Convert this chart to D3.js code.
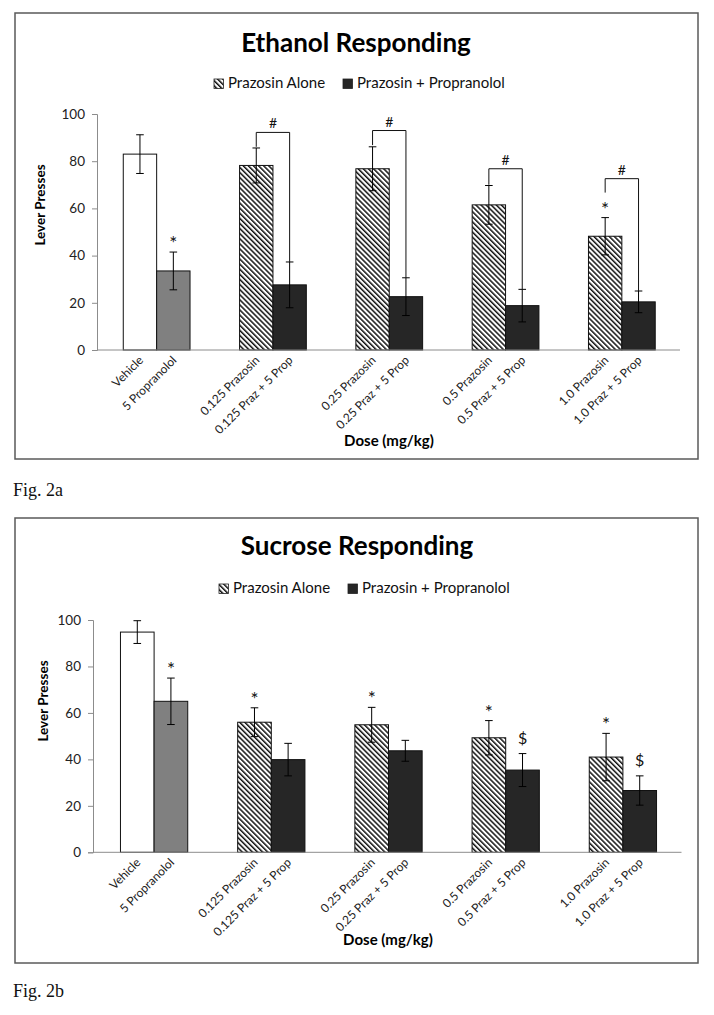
<!DOCTYPE html>
<html>
<head>
<meta charset="utf-8">
<script src="https://cdn.jsdelivr.net/npm/d3@7"></script>
<style>
  html, body { margin: 0; padding: 0; background: #fff; }
  svg { display: block; }
</style>
</head>
<body>
<svg id="chart" width="714" height="1015"></svg>
<script>
// ---------------- DATA ----------------
const categories = [
  "Vehicle", "5 Propranolol",
  "0.125 Prazosin", "0.125 Praz + 5 Prop",
  "0.25 Prazosin", "0.25 Praz + 5 Prop",
  "0.5 Prazosin", "0.5 Praz + 5 Prop",
  "1.0 Prazosin", "1.0 Praz + 5 Prop"
];
const groups = ["Control", "0.125", "0.25", "0.5", "1.0"];
const barKinds = ["vehicle", "propranolol", "alone", "combo", "alone", "combo", "alone", "combo", "alone", "combo"];

const ethanolMeans  = [83.0, 33.5, 78.2, 27.6, 76.8, 22.6, 61.5, 18.8, 48.2, 20.4];
const ethanolErrors = [8.2, 8.0, 7.4, 9.7, 9.3, 8.0, 8.2, 6.9, 7.9, 4.6];
const ethanolMarks  = ["", "*", "", "", "", "", "", "", "*", ""];
const ethanolBracketGroups   = [1, 2, 3, 4];
const ethanolBracketLevels   = [92.2, 93.0, 76.8, 72.6];
const ethanolBracketLeftEnds = [86.1, 86.8, 70.0, 66.7];

const sucroseMeans  = [94.8, 65.0, 56.0, 39.9, 54.9, 43.7, 49.3, 35.4, 41.0, 26.6];
const sucroseErrors = [4.9, 10.0, 6.2, 7.0, 7.5, 4.5, 7.4, 7.1, 10.2, 6.3];
const sucroseMarks  = ["", "*", "*", "", "*", "", "*", "$", "*", "$"];

const yTicks = [0, 20, 40, 60, 80, 100];
const legendLabels = ["Prazosin Alone", "Prazosin + Propranolol"];
const titles = ["Ethanol Responding", "Sucrose Responding"];
const figLabels = ["Fig. 2a", "Fig. 2b"];
const xAxisTitle = "Dose (mg/kg)";
const yAxisTitle = "Lever Presses";

// ---------------- STYLE / LAYOUT ----------------
const FONT = "Lato, 'Open Sans', sans-serif";
const fills = { vehicle: "#ffffff", propranolol: "#808080", alone: "url(#hatch)", combo: "#262626" };
const axisColor = "#8c8c8c";

const svg = d3.select("#chart");
const defs = svg.append("defs");
const pat = defs.append("pattern")
  .attr("id", "hatch")
  .attr("patternUnits", "userSpaceOnUse")
  .attr("width", 3.6).attr("height", 3.6)
  .attr("patternTransform", "rotate(-45)");
pat.append("rect").attr("width", 3.6).attr("height", 3.6).attr("fill", "#fff");
pat.append("rect").attr("x", 0).attr("y", 0).attr("width", 1.5).attr("height", 3.6).attr("fill", "#111");

function drawChart(cfg) {
  const g = svg.append("g");

  // frame
  g.append("rect")
    .attr("x", cfg.frame[0]).attr("y", cfg.frame[1])
    .attr("width", cfg.frame[2] - cfg.frame[0]).attr("height", cfg.frame[3] - cfg.frame[1])
    .attr("fill", "none").attr("stroke", "#5a5a5a").attr("stroke-width", 1.5);

  // title
  g.append("text").attr("x", cfg.cx).attr("y", cfg.titleY)
    .attr("text-anchor", "middle")
    .style("font-family", FONT).style("font-weight", "bold").style("font-size", "26px")
    .attr("fill", "#000").text(cfg.title);

  // legend
  const lg = g.append("g");
  const lgItems = [{ label: legendLabels[0], fill: fills.alone }, { label: legendLabels[1], fill: fills.combo }];
  const lgX = [cfg.legendX, cfg.legendX + 129];
  lgItems.forEach((d, i) => {
    lg.append("rect").attr("x", lgX[i]).attr("y", cfg.legendY - 9).attr("width", 9.5).attr("height", 9.5)
      .attr("fill", d.fill).attr("stroke", "#222").attr("stroke-width", 0.8);
    lg.append("text").attr("x", lgX[i] + 14).attr("y", cfg.legendY)
      .style("font-family", FONT).style("font-size", "15px").attr("fill", "#111").text(d.label);
  });

  // scales
  const x0 = d3.scaleBand().domain(groups).range(cfg.xRange).paddingInner(0.426).paddingOuter(0.213);
  const x1 = d3.scaleBand().domain([0, 1]).range([0, x0.bandwidth()]);
  const y = d3.scaleLinear().domain([0, 100]).range(cfg.yRange);
  const barX = i => x0(groups[Math.floor(i / 2)]) + x1(i % 2);
  const barC = i => barX(i) + x1.bandwidth() / 2;

  // y axis
  const yAxis = g.append("g").attr("transform", `translate(${cfg.axisX},0)`)
    .call(d3.axisLeft(y).tickValues(yTicks).tickSize(5).tickPadding(7).tickFormat(d3.format("d")));
  yAxis.select(".domain").attr("stroke", axisColor);
  yAxis.selectAll(".tick line").attr("stroke", axisColor);
  yAxis.selectAll(".tick text").style("font-family", FONT).style("font-size", "13.5px").attr("fill", "#222");

  // bars
  const bars = g.append("g");
  cfg.means.forEach((v, i) => {
    bars.append("rect")
      .attr("x", barX(i)).attr("y", y(v))
      .attr("width", x1.bandwidth()).attr("height", y(0) - y(v))
      .attr("fill", fills[barKinds[i]]).attr("stroke", "#111").attr("stroke-width", 1);
  });

  // x axis
  const xAxisY = y(0);
  g.append("line").attr("x1", cfg.axisX).attr("x2", cfg.xRange[1])
    .attr("y1", xAxisY).attr("y2", xAxisY).attr("stroke", axisColor).attr("stroke-width", 1);

  // x tick labels
  categories.forEach((c, i) => {
    g.append("text")
      .attr("transform", `translate(${barC(i) + 4},${xAxisY + 11}) rotate(-45)`)
      .attr("text-anchor", "end")
      .style("font-family", FONT).style("font-size", "12px").attr("fill", "#222")
      .text(c);
  });

  // error bars
  const eb = g.append("g").attr("stroke", "#000").attr("stroke-width", 1);
  cfg.means.forEach((v, i) => {
    const cx = barC(i), e = cfg.errors[i];
    eb.append("line").attr("x1", cx).attr("x2", cx).attr("y1", y(v + e)).attr("y2", y(v - e));
    eb.append("line").attr("x1", cx - 3.8).attr("x2", cx + 3.8).attr("y1", y(v + e)).attr("y2", y(v + e));
    eb.append("line").attr("x1", cx - 3.8).attr("x2", cx + 3.8).attr("y1", y(v - e)).attr("y2", y(v - e));
  });

  // significance marks
  cfg.marks.forEach((m, i) => {
    if (!m) return;
    const top = y(cfg.means[i] + cfg.errors[i]);
    g.append("text").attr("x", barC(i)).attr("y", m === "$" ? top - 10 : top - 2)
      .attr("text-anchor", "middle")
      .style("font-family", FONT).style("font-size", m === "$" ? "16px" : "19px").attr("fill", "#111")
      .text(m);
  });

  // brackets
  if (cfg.brackets) {
    const bk = g.append("g");
    cfg.brackets.groups.forEach((gi, k) => {
      const li = gi * 2, ri = gi * 2 + 1;
      const lx = barC(li), rx = barC(ri);
      const ly = y(cfg.brackets.levels[k]);
      const lEnd = y(cfg.brackets.leftEnds[k]);
      const rEnd = y(cfg.means[ri] + cfg.errors[ri]);
      bk.append("path")
        .attr("d", `M${lx},${lEnd}V${ly}H${rx}V${rEnd}`)
        .attr("fill", "none").attr("stroke", "#111").attr("stroke-width", 1);
      bk.append("text").attr("x", (lx + rx) / 2).attr("y", ly - 4)
        .attr("text-anchor", "middle")
        .style("font-family", FONT).style("font-size", "14px").attr("fill", "#111").text("#");
    });
  }

  // axis titles
  g.append("text").attr("x", cfg.doseX).attr("y", cfg.doseY)
    .attr("text-anchor", "middle")
    .style("font-family", FONT).style("font-weight", "bold").style("font-size", "15px")
    .attr("fill", "#000").text(xAxisTitle);
  g.append("text").attr("transform", `translate(${cfg.leverX},${cfg.leverY}) rotate(-90)`)
    .attr("text-anchor", "middle")
    .style("font-family", FONT).style("font-weight", "bold").style("font-size", "13.5px")
    .attr("fill", "#000").text(yAxisTitle);

  // figure label
  svg.append("text").attr("x", 13).attr("y", cfg.figY)
    .style("font-family", "'Liberation Serif', 'DejaVu Serif', serif").style("font-size", "18px")
    .attr("fill", "#111").text(cfg.fig);
}

drawChart({
  title: titles[0], fig: figLabels[0],
  frame: [15, 13, 698, 459], cx: 356,
  titleY: 52, legendY: 88, legendX: 214,
  axisX: 97, xRange: [98.5, 680], yRange: [350, 114],
  doseX: 389, doseY: 446, leverX: 45, leverY: 205, figY: 496,
  means: ethanolMeans, errors: ethanolErrors, marks: ethanolMarks,
  brackets: { groups: ethanolBracketGroups, levels: ethanolBracketLevels, leftEnds: ethanolBracketLeftEnds }
});

drawChart({
  title: titles[1], fig: figLabels[1],
  frame: [15, 518, 698, 963], cx: 357,
  titleY: 555, legendY: 593, legendX: 219,
  axisX: 93, xRange: [95.5, 681.5], yRange: [852.3, 620],
  doseX: 388, doseY: 945, leverX: 48, leverY: 701, figY: 997,
  means: sucroseMeans, errors: sucroseErrors, marks: sucroseMarks,
  brackets: null
});
</script>
</body>
</html>
